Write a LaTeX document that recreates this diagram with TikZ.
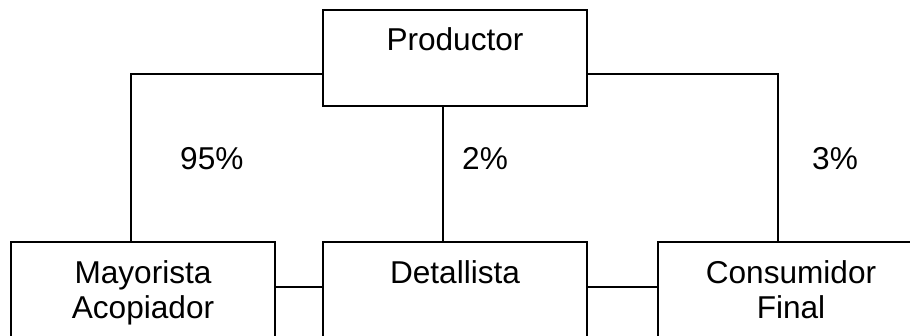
\documentclass[tikz,border=0pt]{standalone}
\usepackage{fontspec}
\setmainfont{Liberation Sans}
\begin{document}
\begin{tikzpicture}[x=1bp,y=-1bp,
  box/.style={draw,line width=1.6bp,minimum width=264bp,minimum height=96bp,inner sep=0,outer sep=0},
  txt/.style={inner sep=0,align=center,font=\fontsize{31.6bp}{35bp}\selectfont},
  conn/.style={line width=1.6bp}]
\clip (0,0) rectangle (910,335);
\node[box] (prod) at (455,58) {};
\node[box] (may) at (143,290) {};
\node[box] (det) at (455,290) {};
\node[box] (con) at (790,290) {};
\node[txt,anchor=base] (tprod) at (455,50) {Productor};
\node[txt,anchor=north] (tmay) at (143,260.4) {Mayorista\\Acopiador};
\node[txt,anchor=base] (tdet) at (455,283) {Detallista};
\node[txt,anchor=north] (tcon) at (791,260.4) {Consumidor\\Final};
\draw[conn] (prod.west |- 0,74) -| (may.north -| 131,0);
\draw[conn] (prod.south -| 443,0) -- (det.north -| 443,0);
\draw[conn] (prod.east |- 0,74) -| (con.north -| 778,0);
\draw[conn] (may.east |- 0,287) -- (det.west |- 0,287);
\draw[conn] (det.east |- 0,287) -- (con.west |- 0,287);
\node[txt,anchor=base west] (p95) at (180,169) {95\%};
\node[txt,anchor=base west] (p2) at (462,169) {2\%};
\node[txt,anchor=base west] (p3) at (812,169) {3\%};
\end{tikzpicture}
\end{document}
